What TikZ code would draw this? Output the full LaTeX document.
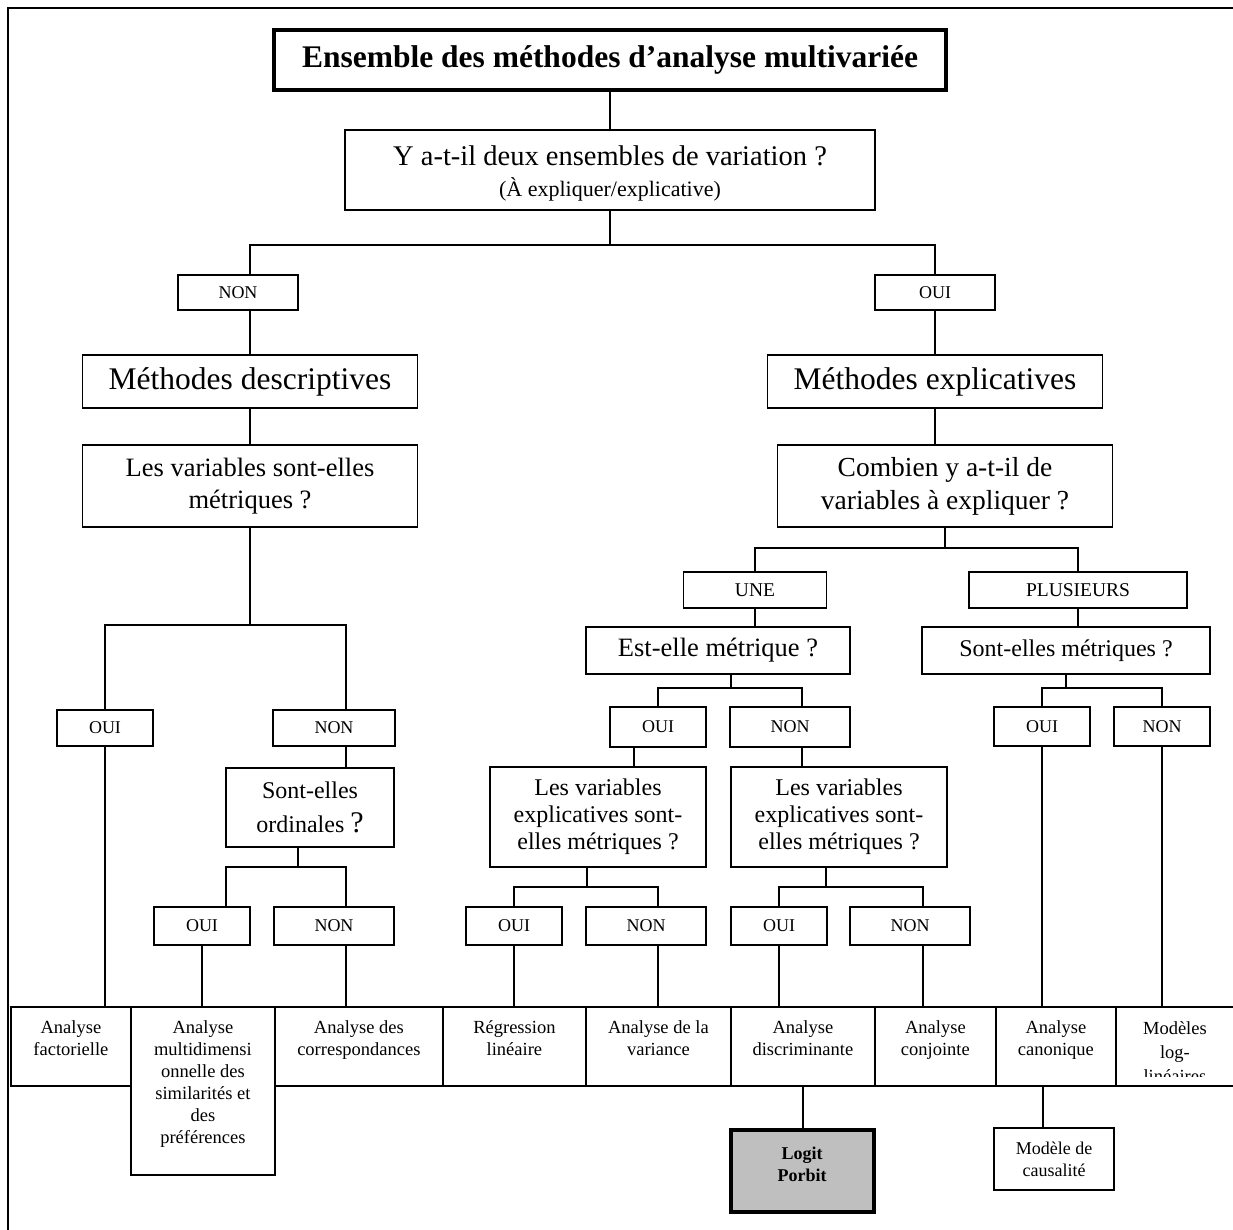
\documentclass[tikz,border=0pt]{standalone}
\usepackage{fontspec}
\setmainfont{Liberation Serif}
\begin{document}
\begin{tikzpicture}[x=1pt,y=-1pt,
  box/.style={draw, line width=1.8pt, inner sep=0pt, align=center},
  yn/.style={box, font=\fontsize{18}{21}\selectfont},
  cell/.style={draw, line width=1.8pt, inner sep=0pt, anchor=north west},
  celltxt/.style={align=center, inner sep=0pt, anchor=north, font=\fontsize{18.5}{22}\selectfont},
  conn/.style={line width=1.8pt},
  frame/.style={line width=2pt}]
\useasboundingbox (0,0) rectangle (1233,1229);
\draw[frame] (8,1240) -- (8,8) -- (1240,8);

% top part
\node[box, line width=4.5pt, minimum width=672pt, minimum height=60pt,
      font=\bfseries\fontsize{31.5}{36}\selectfont] (title) at (610,60)
      {Ensemble des méthodes d’analyse multivariée};
\node[box, minimum width=530pt, minimum height=80pt, font=\fontsize{28.5}{33}\selectfont] (q1) at (610,170)
      {\rule{0pt}{26pt}Y a-t-il deux ensembles de variation ?\\[-2pt]{\fontsize{22}{26}\selectfont (À expliquer/explicative)}};
\node[yn, minimum width=120pt, minimum height=35pt] (non1) at (238,292.5) {NON};
\node[yn, minimum width=120pt, minimum height=35pt] (oui1) at (935,292.5) {OUI};
\node[box, minimum width=335pt, minimum height=53pt, font=\fontsize{31.5}{36}\selectfont] (desc) at (250,381.5) {Méthodes descriptives};
\node[box, minimum width=335pt, minimum height=53pt, font=\fontsize{31.5}{36}\selectfont] (expl) at (935,381.5) {Méthodes explicatives};
\node[box, minimum width=335pt, minimum height=82pt, font=\fontsize{26.5}{32}\selectfont] (lvsem) at (250,486) {Les variables sont-elles\\métriques ?};
\node[box, minimum width=335pt, minimum height=82pt, font=\fontsize{27.5}{33}\selectfont] (comb) at (945,486) {Combien y a-t-il de\\variables à expliquer ?};

% left subtree
\node[yn, minimum width=96pt, minimum height=36pt] (oui_l) at (105,728) {OUI};
\node[yn, minimum width=122pt, minimum height=36pt] (non_l) at (334,728) {NON};
\node[box, minimum width=168pt, minimum height=79pt, font=\fontsize{24}{34}\selectfont] (ord) at (310,807.5) {Sont-elles\\ordinales {\fontsize{30}{34}\selectfont ?}};
\node[yn, minimum width=96pt, minimum height=38pt] (oui_m) at (202,926) {OUI};
\node[yn, minimum width=120pt, minimum height=38pt] (non_m) at (334,926) {NON};

% right subtree
\node[box, minimum width=143pt, minimum height=36pt, font=\fontsize{19.5}{23}\selectfont] (une) at (755,590) {UNE};
\node[box, minimum width=218pt, minimum height=36pt, font=\fontsize{19.5}{23}\selectfont] (plus) at (1078,590) {PLUSIEURS};
\node[box, minimum width=264pt, minimum height=47pt, font=\fontsize{26.5}{31}\selectfont] (est) at (718,650.5) {Est-elle métrique ?};
\node[box, minimum width=288pt, minimum height=47pt, font=\fontsize{24}{29}\selectfont] (smet) at (1066,650.5) {Sont-elles métriques ?};
\node[yn, minimum width=96pt, minimum height=40pt] (oui_e) at (658,727) {OUI};
\node[yn, minimum width=120pt, minimum height=40pt] (non_e) at (790,727) {NON};
\node[yn, minimum width=96pt, minimum height=39pt] (oui_s) at (1042,726.5) {OUI};
\node[yn, minimum width=96pt, minimum height=39pt] (non_s) at (1162,726.5) {NON};
\node[box, minimum width=216pt, minimum height=100pt, font=\fontsize{24}{27}\selectfont] (lv1) at (598,817) {Les variables\\explicatives sont-\\elles métriques ?};
\node[box, minimum width=216pt, minimum height=100pt, font=\fontsize{24}{27}\selectfont] (lv2) at (839,817) {Les variables\\explicatives sont-\\elles métriques ?};
\node[yn, minimum width=96pt, minimum height=38pt] (oui_r1) at (514,926) {OUI};
\node[yn, minimum width=120pt, minimum height=38pt] (non_r1) at (646,926) {NON};
\node[yn, minimum width=96pt, minimum height=38pt] (oui_r2) at (779,926) {OUI};
\node[yn, minimum width=120pt, minimum height=38pt] (non_r2) at (910,926) {NON};

% bottom row
\node[cell, minimum width=120pt, minimum height=79pt] (c1) at (10,1006) {};
\node[cell, minimum width=144pt, minimum height=168pt] (c2) at (130,1006) {};
\node[cell, minimum width=168pt, minimum height=79pt] (c3) at (274,1006) {};
\node[cell, minimum width=143pt, minimum height=79pt] (c4) at (442,1006) {};
\node[cell, minimum width=145pt, minimum height=79pt] (c5) at (585,1006) {};
\node[cell, minimum width=144pt, minimum height=79pt] (c6) at (730,1006) {};
\node[cell, minimum width=121pt, minimum height=79pt] (c7) at (874,1006) {};
\node[cell, minimum width=120pt, minimum height=79pt] (c8) at (995,1006) {};
\node[cell, minimum width=125pt, minimum height=79pt] (c9) at (1115,1006) {};
\node[celltxt] (t1) at ([yshift=-14pt]c1.north) {Analyse\\factorielle};
\node[celltxt] (t2) at ([yshift=-14pt]c2.north) {Analyse\\multidimensi\\onnelle des\\similarités et\\des\\préférences};
\node[celltxt] (t3) at ([yshift=-14pt]c3.north) {Analyse des\\correspondances};
\node[celltxt] (t4) at ([yshift=-14pt]c4.north) {Régression\\linéaire};
\node[celltxt] (t5) at ([yshift=-14pt]c5.north) {Analyse de la\\variance};
\node[celltxt] (t6) at ([yshift=-14pt]c6.north) {Analyse\\discriminante};
\node[celltxt] (t7) at ([yshift=-14pt]c7.north) {Analyse\\conjointe};
\node[celltxt] (t8) at ([yshift=-14pt]c8.north) {Analyse\\canonique};
\begin{scope}
  \clip (1115,1006) rectangle (1233,1076);
  \node[celltxt, font=\fontsize{18.5}{24}\selectfont] (t9) at ([xshift=-3.5pt,yshift=-15pt]c9.north) {Modèles\\log-\\linéaires};
\end{scope}

\node[box, line width=4pt, fill=black!25, minimum width=143pt, minimum height=82pt] (lp) at (802,1171) {};
\node[inner sep=0pt, align=center, font=\bfseries\fontsize{18}{22}\selectfont] (lpt) at ([yshift=7pt]lp.center) {Logit\\Porbit};
\node[box, minimum width=120pt, minimum height=62pt, font=\fontsize{18}{22}\selectfont] (mc) at (1054,1159) {Modèle de\\causalité};

% connectors
\coordinate (j1) at (610,245);
\coordinate (j2) at (250,625);
\coordinate (j3) at (298,867);
\coordinate (j4) at (945,548);
\coordinate (j5) at (731,688);
\coordinate (j6) at (587,887);
\coordinate (j7) at (826,887);
\coordinate (j8) at (1066,688);

\draw[conn] (title.south) -- (q1.north);
\draw[conn] (q1.south) -- (j1) -| (non1.north -| desc.north);
\draw[conn] (j1) -| (oui1.north);
\draw[conn] (non1.south -| desc.north) -- (desc.north);
\draw[conn] (oui1.south) -- (expl.north);
\draw[conn] (desc.south) -- (lvsem.north);
\draw[conn] (expl.south) -- (expl.south |- comb.north);

\draw[conn] (lvsem.south) -- (j2) -| (oui_l.north);
\draw[conn] (j2) -| ([xshift=12pt]non_l.north);
\draw[conn] ([xshift=12pt]non_l.south) -- ([xshift=12pt]non_l.south |- ord.north);
\draw[conn] ([xshift=-12pt]ord.south) -- (j3) -| ([xshift=24pt]oui_m.north);
\draw[conn] (j3) -| ([xshift=12pt]non_m.north);
\draw[conn] (oui_l.south) -- (oui_l.south |- c1.north);
\draw[conn] (oui_m.south) -- (oui_m.south |- c2.north);
\draw[conn] ([xshift=12pt]non_m.south) -- ([xshift=12pt]non_m.south |- c3.north);

\draw[conn] (comb.south) -- (j4) -| (une.north);
\draw[conn] (j4) -| (plus.north);
\draw[conn] (une.south) -- (une.south |- est.north);
\draw[conn] (plus.south) -- (plus.south |- smet.north);
\draw[conn] ([xshift=13pt]est.south) -- (j5) -| (oui_e.north);
\draw[conn] (j5) -| ([xshift=12pt]non_e.north);
\draw[conn] ([xshift=-24pt]oui_e.south) -- ([xshift=-24pt]oui_e.south |- lv1.north);
\draw[conn] ([xshift=12pt]non_e.south) -- ([xshift=12pt]non_e.south |- lv2.north);
\draw[conn] ([xshift=-11pt]lv1.south) -- (j6) -| (oui_r1.north);
\draw[conn] (j6) -| ([xshift=12pt]non_r1.north);
\draw[conn] ([xshift=-13pt]lv2.south) -- (j7) -| (oui_r2.north);
\draw[conn] (j7) -| ([xshift=13pt]non_r2.north);
\draw[conn] (oui_r1.south) -- (oui_r1.south |- c4.north);
\draw[conn] ([xshift=12pt]non_r1.south) -- ([xshift=12pt]non_r1.south |- c5.north);
\draw[conn] (oui_r2.south) -- (oui_r2.south |- c6.north);
\draw[conn] ([xshift=13pt]non_r2.south) -- ([xshift=13pt]non_r2.south |- c7.north);
\draw[conn] (smet.south) -- (j8) -| (oui_s.north);
\draw[conn] (j8) -| (non_s.north);
\draw[conn] (oui_s.south) -- (oui_s.south |- c8.north);
\draw[conn] (non_s.south) -- (non_s.south |- c9.north);
\draw[conn] (c6.south) -- (c6.south |- lp.north);
\draw[conn] ([xshift=-13pt]c8.south) -- ([xshift=-13pt]c8.south |- mc.north);
\end{tikzpicture}
\end{document}
